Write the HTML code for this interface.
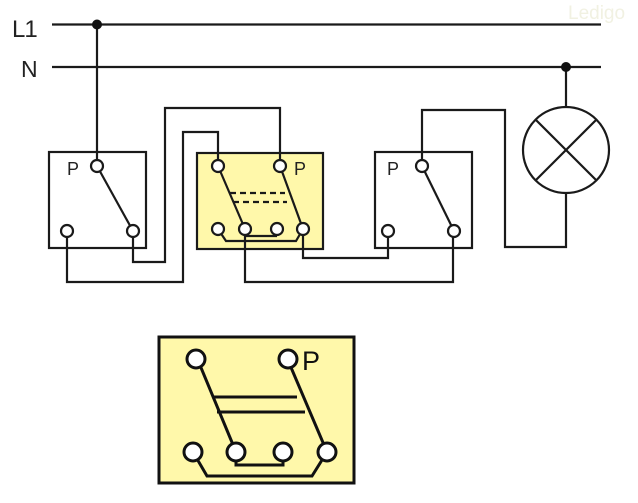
<!DOCTYPE html>
<html><head><meta charset="utf-8"><style>
html,body{margin:0;padding:0;background:#fff;}
svg{display:block;}
text{font-family:"Liberation Sans",sans-serif;}
</style></head><body>
<svg width="638" height="503" viewBox="0 0 638 503" xmlns="http://www.w3.org/2000/svg">
<rect width="638" height="503" fill="#fff"/>
<text x="568" y="19" font-size="19" fill="#f1f1e2">Ledigo</text>
<text x="12" y="37" font-size="24" fill="#222" letter-spacing="-1">L1</text>
<text x="21" y="77" font-size="23" fill="#222">N</text>
<g stroke="#1a1a1a" stroke-width="2.2" fill="none">
<line x1="52" y1="24.5" x2="601" y2="24.5"/>
<line x1="52" y1="67" x2="601" y2="67"/>
<line x1="97" y1="24.5" x2="97" y2="160"/>
<line x1="566" y1="67" x2="566" y2="107"/>
<!-- left switch -->
<rect x="49" y="152" width="97" height="96"/>
<!-- middle box -->
<rect x="197" y="153" width="126" height="96" fill="#fff8aa"/>
<!-- right switch -->
<rect x="375" y="152" width="97" height="96"/>
<!-- lamp -->
<circle cx="566" cy="150" r="43"/>
<line x1="535.6" y1="119.6" x2="596.4" y2="180.4"/>
<line x1="596.4" y1="119.6" x2="535.6" y2="180.4"/>
<!-- wires -->
<polyline points="133,236 133,262 165,262 165,108 280,108 280,160"/>
<polyline points="67,236 67,282 183,282 183,132 218,132 218,160"/>
<polyline points="245,235 245,282 453,282 453,236"/>
<polyline points="303,235 303,258 388,258 388,236"/>
<polyline points="422,160 422,110 505,110 505,247 566,247 566,193"/>
<!-- levers -->
<line x1="97" y1="166" x2="133" y2="231"/>
<line x1="422" y1="166" x2="454" y2="231"/>
<line x1="218" y1="166" x2="245" y2="229"/>
<line x1="280" y1="166" x2="303" y2="229"/>
<line x1="230" y1="193" x2="285" y2="193" stroke-dasharray="6,4"/>
<line x1="233" y1="202" x2="287" y2="202" stroke-dasharray="6,4"/>
<line x1="245" y1="236" x2="277" y2="236"/>
<polyline points="218,229 226,241 296,241 303,229"/>
</g>
<circle cx="97" cy="24.5" r="5" fill="#111"/>
<circle cx="566" cy="67" r="5" fill="#111"/>
<g stroke="#1a1a1a" stroke-width="2.2" fill="#fff">
<circle cx="97" cy="166" r="6"/>
<circle cx="67" cy="231" r="6"/>
<circle cx="133" cy="231" r="6"/>
<circle cx="218" cy="166" r="6"/>
<circle cx="280" cy="166" r="6"/>
<circle cx="218" cy="229" r="6"/>
<circle cx="245" cy="229" r="6"/>
<circle cx="277" cy="229" r="6"/>
<circle cx="303" cy="229" r="6"/>
<circle cx="422" cy="166" r="6"/>
<circle cx="388" cy="231" r="6"/>
<circle cx="454" cy="231" r="6"/>
</g>
<text x="67" y="175" font-size="18" fill="#222">P</text>
<text x="294" y="175" font-size="18" fill="#222">P</text>
<text x="387" y="175" font-size="18" fill="#222">P</text>
<!-- bottom detail box -->
<g stroke="#111" stroke-width="3" fill="none">
<rect x="159" y="337" width="195" height="146" fill="#fff8aa"/>
<line x1="197" y1="358" x2="236" y2="452"/>
<line x1="287" y1="358" x2="327" y2="452"/>
<line x1="212" y1="397" x2="297" y2="397"/>
<line x1="217" y1="412" x2="305" y2="412"/>
<polyline points="236,452 236,465 283,465 283,452"/>
<polyline points="193,452 207,476 312,476 327,452"/>
</g>
<g stroke="#111" stroke-width="3" fill="#fff">
<circle cx="196" cy="359" r="9"/>
<circle cx="288" cy="359" r="9"/>
<circle cx="193" cy="452" r="9"/>
<circle cx="236" cy="452" r="9"/>
<circle cx="283" cy="452" r="9"/>
<circle cx="327" cy="452" r="9"/>
</g>
<text x="302" y="370" font-size="27" fill="#111">P</text>
</svg>
</body></html>
